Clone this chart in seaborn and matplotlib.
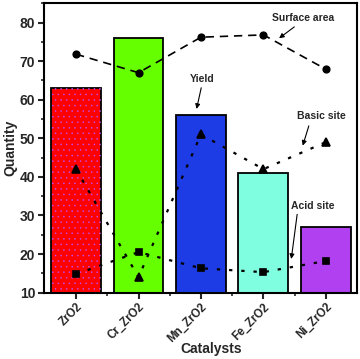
import matplotlib
matplotlib.use("Agg")
import matplotlib.pyplot as plt
import seaborn as sns
import pandas as pd
from matplotlib.ticker import MultipleLocator

catalysts = ["ZrO2", "Cr_ZrO2", "Mn_ZrO2", "Fe_ZrO2", "Ni_ZrO2"]
yield_vals = [63, 76, 56, 41, 27]
surface_area = [71.8, 67.0, 76.2, 76.8, 67.9]
basic_site = [42.0, 14.0, 51.0, 42.0, 49.0]
acid_site = [14.8, 20.5, 16.3, 15.3, 18.2]
bar_colors = ["#FF0000", "#66FF00", "#1E3CE6", "#80FFE0", "#B040F0"]

sns.set_style("ticks")
plt.rcParams["font.family"] = ["Liberation Sans", "DejaVu Sans"]
plt.rcParams["font.weight"] = "bold"
plt.rcParams["hatch.linewidth"] = 0.3

df = pd.DataFrame({"Catalyst": catalysts, "Yield": yield_vals,
                   "Surface": surface_area, "Basic": basic_site, "Acid": acid_site})

fig = plt.figure(figsize=(3.6, 3.59), dpi=100)
ax = fig.add_axes([0.121, 0.185, 0.871, 0.807])

sns.barplot(data=df, x="Catalyst", y="Yield", hue="Catalyst", palette=bar_colors,
            order=catalysts, width=0.8, edgecolor="black", linewidth=1.3,
            saturation=1, legend=False, ax=ax, zorder=1)
# dotted texture on the red bar
ax.bar([0], [yield_vals[0] - 10], bottom=10, width=0.8, fill=False, hatch="...",
       edgecolor="#C050FF", linewidth=0, zorder=1.5)

sns.pointplot(data=df, x="Catalyst", y="Surface", order=catalysts, color="black",
              marker="o", markersize=5, linestyle=(0, (5, 3.5)), linewidth=1.2,
              ax=ax, zorder=3)
sns.pointplot(data=df, x="Catalyst", y="Basic", order=catalysts, color="black",
              marker="^", markersize=5.5, linestyle=(0, (1.5, 4)), linewidth=1.6,
              ax=ax, zorder=3)
sns.pointplot(data=df, x="Catalyst", y="Acid", order=catalysts, color="black",
              marker="s", markersize=5, linestyle=(0, (1.5, 4)), linewidth=1.6,
              ax=ax, zorder=3)

ax.set_xlim(-0.52, 4.5)
ax.set_ylim(10, 85.1)
ax.yaxis.set_major_locator(MultipleLocator(10))
ax.yaxis.set_minor_locator(MultipleLocator(5))
ax.set_xticks([0.5, 1.5, 2.5, 3.5], minor=True)

for s in ax.spines.values():
    s.set_visible(True)
    s.set_linewidth(1.5)
    s.set_color("black")
ax.tick_params(which="major", direction="out", length=4, width=1.5, pad=2)
ax.tick_params(axis="y", labelsize=10)
ax.tick_params(which="minor", direction="out", length=2.5, width=1.2)
ax.tick_params(axis="x", labelsize=8.3)
plt.setp(ax.get_xticklabels(), rotation=45, ha="right", rotation_mode="anchor",
         fontweight="bold")
plt.setp(ax.get_yticklabels(), fontweight="bold")
ax.set_ylabel("Quantity", fontsize=10, fontweight="bold")
ax.yaxis.set_label_coords(-0.083, 0.5)
ax.set_xlabel("Catalysts", fontsize=10, fontweight="bold")
ax.xaxis.set_label_coords(0.535, -0.172)

ap = dict(arrowstyle="-|>", color="black", lw=0.8, mutation_scale=7)
fs = 7.5
ax.text(3.14, 81.3, "Surface area", fontsize=fs, fontweight="bold", ha="left", va="center")
ax.annotate("", xy=(3.215, 75.5), xytext=(3.53, 79.3), arrowprops=ap)
ax.text(2.02, 65.4, "Yield", fontsize=fs, fontweight="bold", ha="center", va="center")
ax.annotate("", xy=(1.92, 56.9), xytext=(2.014, 63.8), arrowprops=ap)
ax.text(3.925, 55.8, "Basic site", fontsize=fs, fontweight="bold", ha="center", va="center")
ax.annotate("", xy=(3.616, 47.4), xytext=(3.74, 53.9), arrowprops=ap)
ax.text(3.797, 32.5, "Acid site", fontsize=fs, fontweight="bold", ha="center", va="center")
ax.annotate("", xy=(3.44, 18.0), xytext=(3.546, 31.0), arrowprops=ap)

fig.savefig("out.png", dpi=100)
